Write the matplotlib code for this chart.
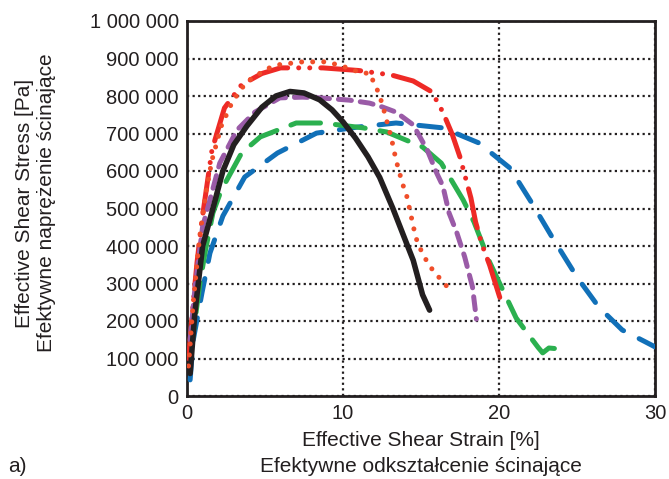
import matplotlib
matplotlib.use("Agg")
import matplotlib.pyplot as plt
from matplotlib.ticker import FuncFormatter

plt.rcParams['font.family'] = ['Liberation Sans', 'DejaVu Sans']

# strain [%] / stress [Pa]
black_x = [0.2, 0.5, 1.0, 1.66, 2.3, 3.0, 3.84, 4.8, 5.7, 6.6, 7.5, 8.5, 9.3, 10.0, 10.8, 11.6, 12.35, 13.2, 14.0, 14.5, 15.1, 15.55]
black_y = [60000, 220000, 400000, 500000, 600000, 670000, 720000, 770000, 800000, 812000, 808000, 790000, 763000, 731000, 688000, 638000, 583000, 500000, 415000, 362000, 270000, 229000]

dot_x = [0.1, 0.4, 0.8, 1.2, 1.6, 2.2, 2.9, 3.8, 5.1, 5.8, 7.4, 9.0, 10.3, 11.2, 11.7, 12.2, 12.5, 13.1, 13.4, 13.8, 14.1, 14.6, 14.8, 15.5, 16.5, 17.1]
dot_y = [80000, 250000, 420000, 540000, 629000, 720000, 784000, 837000, 872000, 883000, 891000, 891000, 875000, 861000, 861000, 816000, 781000, 688000, 629000, 568000, 531000, 435000, 405000, 349000, 299000, 275000]

red_x = [0.1, 0.4, 0.64, 0.96, 1.6, 2.4, 3.5, 4.8, 6.0, 8.7, 11.0, 13.1, 14.5, 15.7, 16.4, 17.0, 17.5, 18.2, 18.5, 18.9, 19.4, 20.2]
red_y = [100000, 250000, 355000, 469000, 656000, 768000, 830000, 860000, 875000, 875000, 868000, 856000, 840000, 811000, 757000, 698000, 637000, 528000, 464000, 405000, 349000, 243000]

purple_x = [0.2, 0.5, 1.0, 1.47, 2.1, 3.2, 4.35, 5.95, 7.4, 8.5, 10.4, 11.7, 12.5, 13.4, 14.5, 15.4, 16.0, 16.4, 16.8, 17.3, 17.8, 18.3, 18.55]
purple_y = [149000, 283000, 451000, 523000, 621000, 709000, 757000, 795000, 797000, 795000, 789000, 781000, 771000, 757000, 723000, 656000, 595000, 560000, 488000, 435000, 371000, 291000, 205000]

green_x = [0.2, 0.83, 1.15, 1.66, 2.2, 3.5, 4.7, 7.0, 8.7, 11.3, 12.8, 15.1, 16.3, 17.7, 18.4, 19.4, 20.0, 21.1, 21.9, 22.5, 22.8, 23.2, 24.0]
green_y = [104000, 301000, 381000, 488000, 549000, 648000, 691000, 728000, 728000, 715000, 704000, 664000, 621000, 523000, 464000, 357000, 304000, 208000, 163000, 130000, 115000, 128000, 125000]

blue_x = [0.2, 0.4, 0.96, 1.47, 2.3, 3.7, 5.8, 8.3, 10.9, 13.4, 16.4, 18.7, 20.7, 22.1, 23.4, 25.0, 26.4, 27.9, 29.4, 30.0]
blue_y = [43000, 149000, 275000, 381000, 480000, 584000, 648000, 701000, 717000, 728000, 715000, 675000, 608000, 515000, 424000, 317000, 237000, 176000, 144000, 131000]

x_ticks = [0, 10, 20, 30]
y_ticks = list(range(0, 1000001, 100000))

fig = plt.figure(figsize=(6.69, 4.79), dpi=100)
ax = fig.add_axes([187 / 669, 1 - 396 / 479, (655 - 187) / 669, (396 - 21) / 479])

lw = 3.6
ax.plot(blue_x, blue_y, color='#1170b8', lw=lw, linestyle=(0, (4.5, 3.5)), dash_capstyle='round', zorder=3)
ax.plot(green_x, green_y, color='#2bb04f', lw=lw, linestyle=(0, (6, 3)), dash_capstyle='round', zorder=3)
ax.plot(red_x, red_y, color='#ee2a26', lw=lw, linestyle=(0, (8, 2.2, 0.01, 2.2, 0.01, 2.2)), dash_capstyle='round', zorder=3)
ax.plot(purple_x, purple_y, color='#9a5ba7', lw=lw, linestyle=(0, (2.6, 1.8)), dash_capstyle='round', zorder=4)
ax.plot(black_x, black_y, color='#231f20', lw=4.0, solid_capstyle='round', solid_joinstyle='round', zorder=4)
ax.plot(dot_x, dot_y, color='#f04e2a', lw=lw, linestyle=(0, (0.01, 2.2)), dash_capstyle='round', zorder=5)

ax.set_xlim(0, 30)
ax.set_ylim(0, 1000000)
ax.set_xticks(x_ticks)
ax.set_yticks(y_ticks)
ax.yaxis.set_major_formatter(FuncFormatter(lambda v, p: f"{int(v):,}".replace(",", " ")))
ax.tick_params(length=0, labelsize=14.5, pad=6, colors='#231f20')
ax.grid(True, color='#231f20', linestyle=(0, (1, 1.5)), linewidth=1.6)
for s in ax.spines.values():
    s.set_linewidth(2)
    s.set_color('#231f20')

fs = 15
fig.text(421 / 669, 1 - 441 / 479, "Effective Shear Strain [%]", ha='center', va='center', fontsize=fs, color='#231f20')
fig.text(421 / 669, 1 - 467 / 479, "Efektywne odkształcenie ścinające", ha='center', va='center', fontsize=fs, color='#231f20')
fig.text(8 / 669, 1 - 467 / 479, "a)", ha='left', va='center', fontsize=fs, color='#231f20')
fig.text(25 / 669, 1 - 203 / 479, "Effective Shear Stress [Pa]", rotation=90, ha='center', va='center', fontsize=fs, color='#231f20')
fig.text(47 / 669, 1 - 203 / 479, "Efektywne naprężenie ścinające", rotation=90, ha='center', va='center', fontsize=fs, color='#231f20')

fig.savefig("out.png", dpi=100)
